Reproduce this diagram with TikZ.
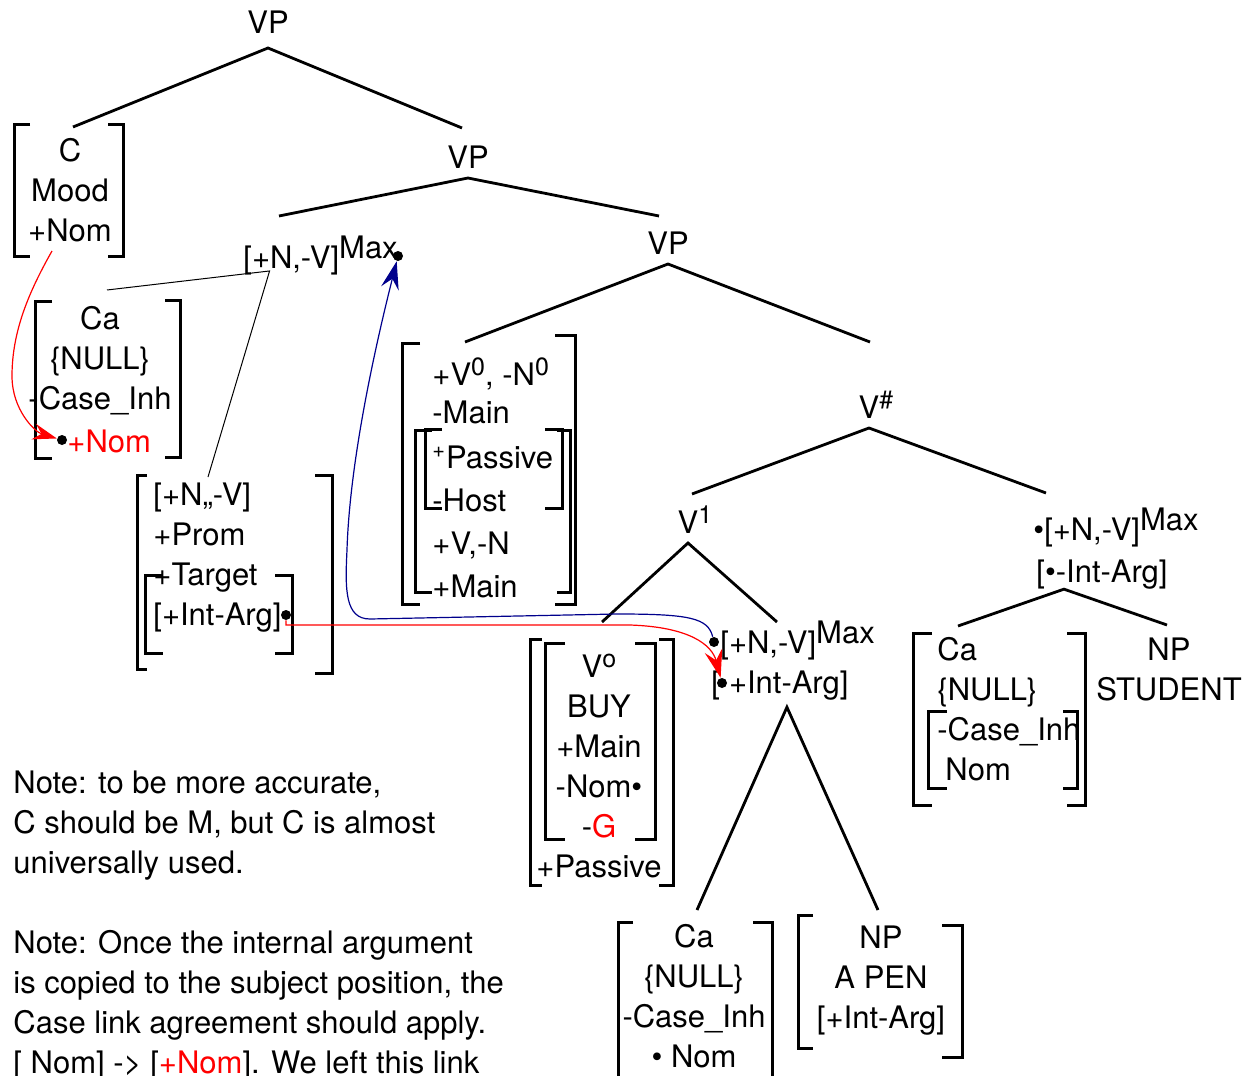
\documentclass[tikz,border=0pt]{standalone}
\usepackage{fontspec}
\setmainfont{TeX Gyre Heros}
\usetikzlibrary{arrows.meta}
\definecolor{linkblue}{rgb}{0,0,0.55}
\newcommand{\supx}[1]{\raisebox{5pt}{\fontsize{12.5}{12.5}\selectfont #1}}
\newcommand{\maxup}{\raisebox{5pt}{Max}}

\begin{document}
\begin{tikzpicture}[x=0.5pt,y=-0.5pt,
    font=\fontsize{15.5}{20}\selectfont,
    lab/.style={inner sep=0pt,outer sep=5pt},
    feat/.style={inner sep=0pt,align=center},
    featl/.style={inner sep=0pt,align=left},
    tr/.style={line width=1.4pt},
    br/.style={line width=1.5pt},
    thinln/.style={line width=0.5pt},
    dot/.style={circle,fill=black,inner sep=0pt,minimum size=5pt},
    link/.style={line width=0.6pt,-{Stealth[length=14pt,width=9pt,inset=5pt]}}]
  \useasboundingbox (0,0) rectangle (1250,1076);

  % tree labels
  \node[lab,anchor=base,outer sep=7.5pt] (vp1) at (268,33) {VP};
  \node[lab,anchor=base] (vp2) at (468,168) {VP};
  \node[lab,anchor=base] (vp3) at (668,254) {VP};
  \node[lab,anchor=base] (vh) at (869,418) {V\rlap{\supx{\#}}};
  \node[lab,anchor=base] (v1) at (688,533) {V\rlap{\supx{1}}};

  % [+N,-V] max projections
  \node[inner sep=0pt,anchor=base west] (nv1) at (243,268) {[+N,-V]\maxup};
  \node[dot] (nv1-d) at (398,256) {};
  \node[inner sep=0pt,anchor=base west] (nv2) at (720,653) {[+N,-V]\maxup};
  \node[dot] (nv2-d) at (714,642) {};
  \node[inner sep=0pt,anchor=base west] (ia2) at (711,693) {[\hspace{4.5pt}+Int-Arg]};
  \node[dot] (ia2-d) at (722,683) {};
  \node[inner sep=0pt,anchor=base west] (nv3) at (1033,540) {\textbullet[+N,-V]\maxup};
  \node[inner sep=0pt,anchor=base west] (ia3) at (1036,582) {[\textbullet-Int-Arg]};

  % feature boxes
  \node[feat] (cmood) at (70,190) {C\\Mood\\+Nom};
  \node[feat] (ca1) at (100,361) {Ca\\\{NULL\}\\-Case\_Inh};
  \node[inner sep=0pt,anchor=base west,red] (ca1-nom) at (67,452) {+Nom};
  \node[dot] (nom-d) at (62,440) {};
  \node[featl,anchor=west] (np1) at (153,558) {[+N,,-V]\\+Prom\\+Target\\{}[+Int-Arg]};
  \node[dot] (ia1-d) at (286,615) {};
  \node[featl,anchor=north west,font=\fontsize{15.5}{21.5}\selectfont] (vn0) at (432,357)
    {+V\supx{0}, -N\supx{0}\\[-2.5pt]-Main\\[1pt]\textsuperscript{+}Passive\\-Host\\+V,-N\\+Main};
  \node[feat] (v0) at (599,766) {V\supx{o}\\BUY\\+Main\\-Nom\textbullet\\-\textcolor{red}{G}\\+Passive};
  \node[feat] (ca2) at (694,996) {Ca\\\{NULL\}\\-Case\_Inh\\\textbullet\ Nom};
  \node[feat] (np2) at (881,981) {NP\\A PEN\\{}[+Int-Arg]};
  \node[featl,anchor=west] (ca3) at (937,709) {Ca\\\{NULL\}\\-Case\_Inh\\\hspace*{4pt}Nom};
  \node[feat] (np3) at (1169,669) {NP\\STUDENT};

  % notes
  \node[featl,anchor=north west] (note1) at (13,770)
    {Note: to be more accurate,\\C should be M, but C is almost\\universally used.};
  \node[featl,anchor=north west] (note2) at (13,930)
    {Note: Once the internal argument\\is copied to the subject position, the\\Case link agreement should apply.\\{}[ Nom] -> [\textcolor{red}{+Nom}]. We left this link};

  % branch ends
  \coordinate (cmood-t) at (73,127);
  \coordinate (vp2-t) at (462,128);
  \coordinate (nv1-t) at (279,216);
  \coordinate (vp3-t) at (659,216);
  \coordinate (vn0-t) at (465,342);
  \coordinate (vh-t) at (870,342);
  \coordinate (v1-t) at (692,494);
  \coordinate (nv3-t) at (1046,493);
  \coordinate (v0-t) at (602,622);
  \coordinate (nv2-t) at (777,622);
  \coordinate (ca2-t) at (697,910);
  \coordinate (np2-t) at (878,910);
  \coordinate (ca3-t) at (958,626);
  \coordinate (np3-t) at (1167,625);
  \coordinate (ca1-t) at (107,290);
  \coordinate (np1-t) at (208,477);
  \coordinate (nom-src) at (52,251);

  % tree
  \draw[tr] (cmood-t) -- (vp1.south) -- (vp2-t);
  \draw[tr] (nv1-t) -- (vp2.south) -- (vp3-t);
  \draw[tr] (vn0-t) -- (vp3.south) -- (vh-t);
  \draw[tr] (v1-t) -- (vh.south) -- (nv3-t);
  \draw[tr] (v0-t) -- (v1.south) -- (nv2-t);
  \draw[tr] (ca2-t) -- ([xshift=3.5pt,yshift=-3.5pt]ia2.south) -- (np2-t);
  \draw[tr] (ca3-t) -- ([xshift=-19pt]ia3.south) -- (np3-t);
  \draw[thinln] (ca1-t) -- ([xshift=-25.5pt,yshift=2pt]nv1.south) -- (np1-t);

  % brackets
  \draw[br] (30,124) -| (14,256) -- +(16,0);
  \draw[br] (108,124) -| (123,256) -- +(-15,0);
  \draw[br] (52,301) -| (35,458) -- +(17,0);
  \draw[br] (165,300) -| (180,457) -- +(-15,0);
  \draw[br] (147,475) -| (137,669) -- +(10,0);
  \draw[br] (315,475) -| (332,673) -- +(-17,0);
  \draw[br] (163,575) -| (145,653) -- +(18,0);
  \draw[br] (275,575) -| (292,653) -- +(-17,0);
  \draw[br] (420,343) -| (402,604) -- +(18,0);
  \draw[br] (555,335) -| (575,604) -- +(-20,0);
  \draw[br] (432,430) -| (415,592) -- +(17,0);
  \draw[br] (557,430) -| (570,592) -- +(-13,0);
  \draw[br] (442,429) -| (425,508) -- +(17,0);
  \draw[br] (545,429) -| (562,508) -- +(-17,0);
  \draw[br] (542,639) -| (530,885) -- +(12,0);
  \draw[br] (659,639) -| (673,885) -- +(-14,0);
  \draw[br] (565,643) -| (545,839) -- +(20,0);
  \draw[br] (635,643) -| (655,839) -- +(-20,0);
  \draw[br] (633,922) -| (618,1090) -- +(15,0);
  \draw[br] (753,922) -| (772,1090) -- +(-19,0);
  \draw[br] (813,915) -| (798,1048) -- +(15,0);
  \draw[br] (942,925) -| (962,1057) -- +(-20,0);
  \draw[br] (932,633) -| (913,805) -- +(19,0);
  \draw[br] (1067,633) -| (1085,805) -- +(-18,0);
  \draw[br] (947,711) -| (928,788) -- +(19,0);
  \draw[br] (1063,711) -| (1077,788) -- +(-14,0);

  % links
  \draw[link,red,-{Stealth[length=12pt,width=8pt,inset=4pt]}] (nom-src) .. controls (30,290) and (12,330) .. (12,376)
    .. controls (12,410) and (35,432) .. (nom-d);
  \draw[link,linkblue] (nv2-d) .. controls (708,618) and (690,614) .. (617,614) -- (370,619)
    .. controls (345,619) and (345,590) .. (347,550) .. controls (350,450) and (382,320) .. (nv1-d);
  \draw[link,red] (ia1-d.south) |- (630,625) .. controls (690,627) and (712,645) .. (ia2-d);
\end{tikzpicture}
\end{document}
